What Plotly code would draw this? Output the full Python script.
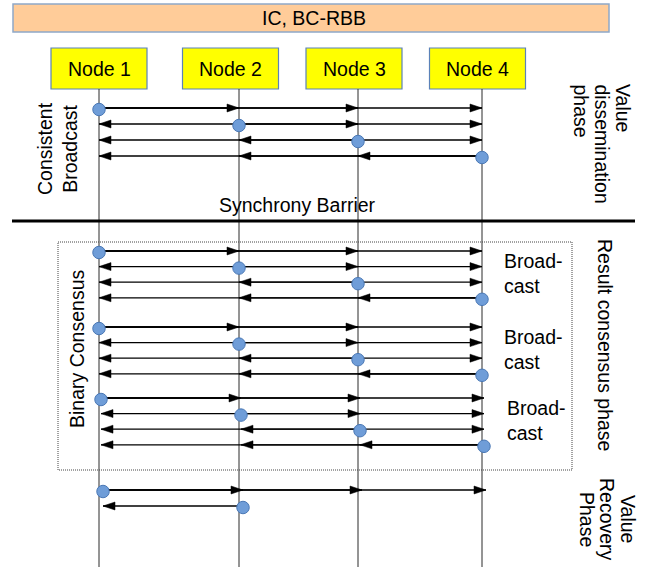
import plotly.graph_objects as go

# ---------------- data ----------------
nodes = ["Node 1", "Node 2", "Node 3", "Node 4"]
title_text = "IC, BC-RBB"
# dissemination phase: each node broadcasts once (sender index, receivers)
dissemination_msgs = [(0, [1, 2, 3]), (1, [0, 2, 3]), (2, [0, 1, 3]), (3, [0, 1, 2])]
# binary consensus: three broadcast rounds, every node broadcasts
consensus_rounds = ["Broad-<br>cast", "Broad-<br>cast", "Broad-<br>cast"]
consensus_msgs = [(0, [1, 2, 3]), (1, [0, 2, 3]), (2, [0, 1, 3]), (3, [0, 1, 2])]
# value recovery
recovery_msgs = [(0, [1, 2, 3]), (1, [0])]
left_labels = ["Consistent<br>Broadcast", "Binary Consensus"]
right_labels = [["Value", "dissemination", "phase"], ["Result consensus phase"], ["Value", "Recovery", "Phase"]]
barrier_label = "Synchrony Barrier"

# ---------------- layout constants ----------------
W, H = 647, 567
FONT = "Liberation Sans, Arial, sans-serif"
FS = 19.5
box_cx = [99, 230.5, 354, 477.5]
life_x = [99, 239, 358, 482]
box_w, box_top, box_bot = 96, 48, 89
dis_y0, row_step = 108, 16
cons_y0 = [251, 327, 398]
cons_step = 15.6
rec_y0 = [490, 506]
rec_dx = 4
AL, AH = 12, 4  # arrowhead length, half height

fig = go.Figure()
shapes = []
annotations = []

# title bar
shapes.append(dict(type="rect", x0=13, x1=609, y0=4, y1=32, fillcolor="#FFCC99",
                   line=dict(color="#8FA8C8", width=1.5), layer="below"))
annotations.append(dict(x=314, y=18, text=title_text, showarrow=False,
                        font=dict(family=FONT, size=FS, color="black")))

# node boxes and lifelines
for i, name in enumerate(nodes):
    shapes.append(dict(type="rect", x0=box_cx[i] - box_w / 2, x1=box_cx[i] + box_w / 2,
                       y0=box_top, y1=box_bot, fillcolor="#FFFF00",
                       line=dict(color="#5B82B8", width=1.2), layer="below"))
    annotations.append(dict(x=box_cx[i], y=(box_top + box_bot) / 2, text=name, showarrow=False,
                            font=dict(family=FONT, size=FS, color="black")))
    shapes.append(dict(type="line", x0=life_x[i], x1=life_x[i], y0=box_bot, y1=H,
                       line=dict(color="#2a2a2a", width=1), layer="below"))

# collect message rows
rows = []  # (y, sender, receivers, dx)
for k, (s, r) in enumerate(dissemination_msgs):
    rows.append((dis_y0 + k * row_step, s, r, 0))
for g, y0 in enumerate(cons_y0):
    for k, (s, r) in enumerate(consensus_msgs):
        rows.append((y0 + k * cons_step, s, r, 2 if g == 2 else 0))
for k, (s, r) in enumerate(recovery_msgs):
    rows.append((rec_y0[k], s, r, rec_dx))

lx, ly, tx, ty, cx, cy = [], [], [], [], [], []
for (y, s, recv, dx) in rows:
    xs = life_x[s] + dx
    for rcv in recv:
        xt = life_x[rcv] + dx
        lx += [xs, xt, None]
        ly += [y, y, None]
        d = 1 if xt > xs else -1
        tx += [xt, xt - d * AL, xt - d * AL, xt, None]
        ty += [y, y - AH, y + AH, y, None]
    cx.append(xs)
    cy.append(y + 1.5)

fig.add_trace(go.Scatter(x=lx, y=ly, mode="lines", line=dict(color="black", width=1.3),
                         hoverinfo="skip", showlegend=False))
fig.add_trace(go.Scatter(x=tx, y=ty, mode="lines", fill="toself", fillcolor="black",
                         line=dict(color="black", width=0.5), hoverinfo="skip", showlegend=False))
fig.add_trace(go.Scatter(x=cx, y=cy, mode="markers",
                         marker=dict(size=12.5, color="#6F9DD8", line=dict(color="#4A78B5", width=1)),
                         hoverinfo="skip", showlegend=False))

# synchrony barrier
shapes.append(dict(type="line", x0=12, x1=635, y0=221, y1=221, line=dict(color="black", width=3)))
annotations.append(dict(x=297, y=205, text=barrier_label, showarrow=False,
                        font=dict(family=FONT, size=FS, color="black")))

# binary consensus dotted box
shapes.append(dict(type="rect", x0=58, x1=572, y0=242, y1=470,
                   line=dict(color="#444444", width=1, dash="1px,1px"), layer="below"))

# broadcast labels
for g, y0 in enumerate(cons_y0):
    annotations.append(dict(x=502 + (3 if g == 2 else 0), y=y0 + 22, text=consensus_rounds[g],
                            showarrow=False, xanchor="left", align="left",
                            font=dict(family=FONT, size=FS, color="black")))

# left rotated labels
annotations.append(dict(x=57, y=149, text=left_labels[0], showarrow=False, textangle=-90,
                        font=dict(family=FONT, size=FS, color="black")))
annotations.append(dict(x=77, y=349, text=left_labels[1], showarrow=False, textangle=-90,
                        font=dict(family=FONT, size=FS, color="black")))

# right rotated labels (one annotation per line)
for j, t in enumerate(right_labels[0]):
    annotations.append(dict(x=[623, 602, 581][j], y=82, yanchor="top", text=t, showarrow=False,
                            textangle=90, font=dict(family=FONT, size=FS, color="black")))
annotations.append(dict(x=605, y=345, text=right_labels[1][0], showarrow=False, textangle=90,
                        font=dict(family=FONT, size=FS, color="black")))
for j, t in enumerate(right_labels[2]):
    annotations.append(dict(x=[628, 607, 587][j], y=519, text=t, showarrow=False,
                            textangle=90, font=dict(family=FONT, size=FS, color="black")))

fig.update_layout(
    width=W, height=H, margin=dict(l=0, r=0, t=0, b=0),
    plot_bgcolor="white", paper_bgcolor="white",
    xaxis=dict(range=[0, W], visible=False, fixedrange=True),
    yaxis=dict(range=[H, 0], visible=False, fixedrange=True),
    shapes=shapes, annotations=annotations, showlegend=False,
)
fig.write_html("out.html", config={"displayModeBar": False},
               post_script="document.body.style.margin='0';document.body.style.overflow='hidden';")
